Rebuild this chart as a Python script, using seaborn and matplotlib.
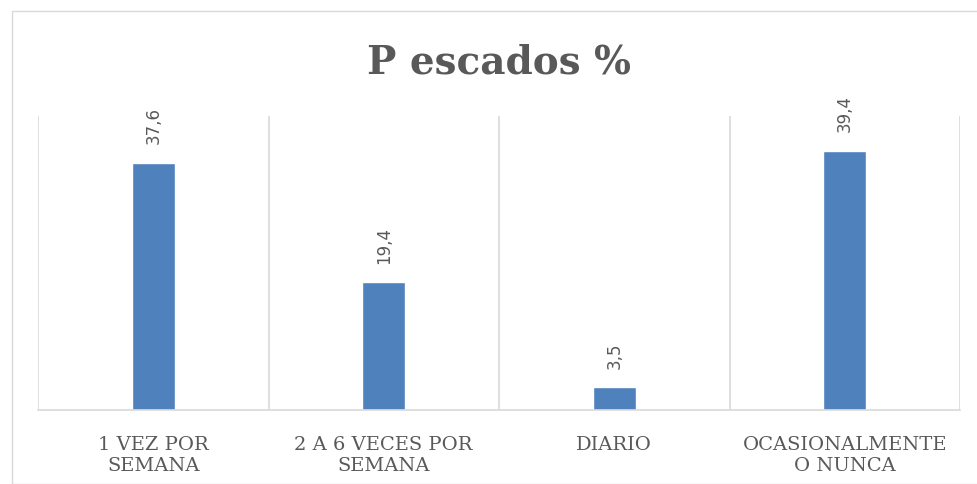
import matplotlib
matplotlib.use("Agg")
import matplotlib.pyplot as plt
import seaborn as sns
import pandas as pd
from matplotlib.patches import Rectangle

# --- Data ---
categories = ["1 VEZ POR\nSEMANA", "2 A 6 VECES POR\nSEMANA", "DIARIO", "OCASIONALMENTE\nO NUNCA"]
values = [37.6, 19.4, 3.5, 39.4]
value_labels = ["37,6", "19,4", "3,5", "39,4"]

df = pd.DataFrame({"cat": categories, "val": values})

# --- Plotting ---
sns.set_style("white")
fig = plt.figure(figsize=(9.77, 4.85), dpi=100)
ax = fig.add_axes([38 / 977, 74 / 485, 922 / 977, 294 / 485])

sns.barplot(data=df, x="cat", y="val", color="#4F81BD", saturation=1,
            width=0.187, ax=ax)

ax.set_xlim(-0.5, 3.5)
ax.set_ylim(0, 44.7)
ax.set_yticks([])
ax.set_xlabel("")
ax.set_ylabel("")

# category separators as vertical grid lines
ax.set_xticks([-0.5, 0.5, 1.5, 2.5, 3.5], minor=True)
ax.grid(True, which="minor", axis="x", color="#D9D9D9", linewidth=1.2)
ax.tick_params(axis="x", which="both", length=0, pad=18)
ax.set_xticks(range(4))
ax.set_xticklabels(categories, fontsize=14, family="DejaVu Serif",
                   color="#595959", linespacing=1.25)

for side in ["top", "left", "right"]:
    ax.spines[side].set_visible(False)
ax.spines["bottom"].set_color("#D9D9D9")
ax.spines["bottom"].set_linewidth(1.2)

ax.bar_label(ax.containers[0], labels=value_labels, rotation=90, padding=14,
             fontsize=12, color="#595959")

fig.text(0.5108, 0.872, "P escados %", ha="center", va="center",
         fontsize=28, fontweight="bold", family="DejaVu Serif", color="#595959")

# outer chart frame
fig.patches.append(Rectangle((12 / 977, 0), 1, 1 - 12 / 485, transform=fig.transFigure,
                             fill=False, edgecolor="#D9D9D9", linewidth=1))

plt.savefig("out.png", dpi=100)
